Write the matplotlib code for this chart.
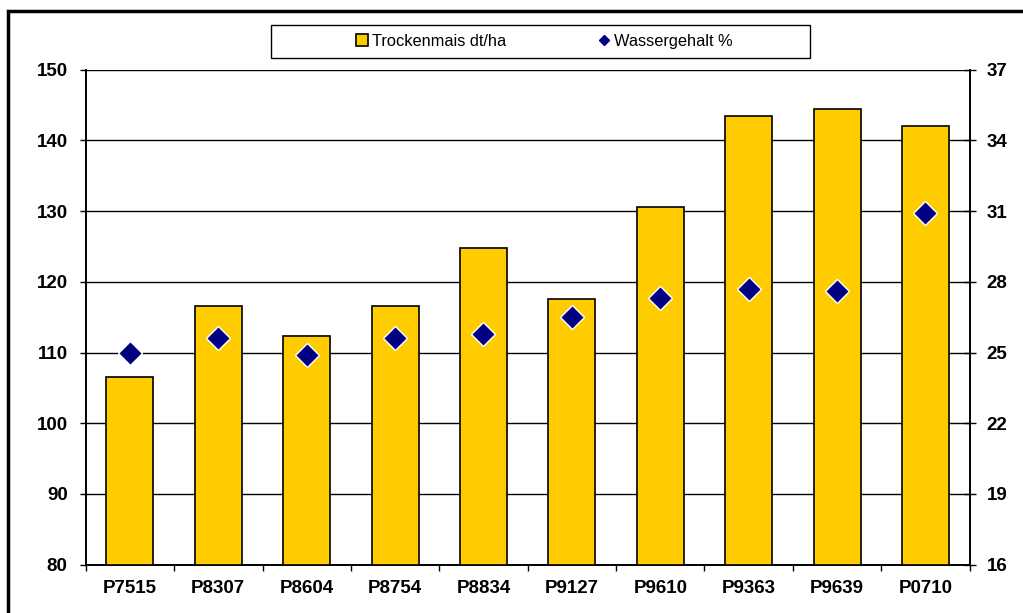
import matplotlib.pyplot as plt
from matplotlib.lines import Line2D
from matplotlib.patches import Rectangle
import numpy as np

# data
sorten = ["P7515", "P8307", "P8604", "P8754", "P8834",
          "P9127", "P9610", "P9363", "P9639", "P0710"]
trockenmais = [106.5, 116.6, 112.3, 116.6, 124.8,
               117.6, 130.6, 143.5, 144.5, 142.1]
wassergehalt = [25.0, 25.6, 24.9, 25.6, 25.8,
                26.5, 27.3, 27.7, 27.6, 30.9]
left_ticks = [80, 90, 100, 110, 120, 130, 140, 150]
right_ticks = [16, 19, 22, 25, 28, 31, 34, 37]

plt.rcParams['font.family'] = ['Liberation Sans', 'DejaVu Sans']

W, H = 1023, 613
fig = plt.figure(figsize=(W / 100, H / 100), dpi=100)
ax = fig.add_axes([85.7 / W, 1 - 564.7 / H, 884 / W, 495 / H])
ax2 = ax.twinx()

x = np.arange(len(sorten))
ax.bar(x, trockenmais, width=0.53, color="#FFCC00", edgecolor="black",
       linewidth=1.2, zorder=3)
ax.set_ylim(80, 150)
ax.set_yticks(left_ticks)
ax.set_xlim(-0.5, len(sorten) - 0.5)
ax.set_xticks(x)
ax.set_xticklabels(sorten, fontweight="bold", fontsize=13.5)
ax.set_xticks(np.arange(len(sorten) + 1) - 0.5, minor=True)
ax.tick_params(axis="x", which="major", length=0, pad=11)
ax.tick_params(axis="x", which="minor", length=4.5, direction="out", width=1)
ax.tick_params(axis="y", length=4.5, direction="out", width=1, pad=8.5,
               labelsize=13.5)
for lab in ax.get_yticklabels():
    lab.set_fontweight("bold")
ax.grid(axis="y", color="black", linewidth=1, zorder=0)
ax.set_axisbelow(True)

ax2.plot(x, wassergehalt, linestyle="none", marker="D", markersize=12,
         color="#000080", markeredgecolor="white", markeredgewidth=1,
         zorder=4)
ax2.set_ylim(16, 37)
ax2.set_yticks(right_ticks)
ax2.tick_params(axis="y", length=8, direction="inout", width=1, pad=8.3,
                labelsize=13.5)
for lab in ax2.get_yticklabels():
    lab.set_fontweight("bold")

for a in (ax, ax2):
    a.spines["top"].set_visible(False)
    for s in ("left", "right", "bottom"):
        a.spines[s].set_linewidth(1.2)

# legend at the top, frame drawn separately
handles = [
    Line2D([], [], linestyle="none", marker="s", markersize=8,
           markerfacecolor="#FFCC00", markeredgecolor="black",
           markeredgewidth=1.2, label="Trockenmais dt/ha"),
    Line2D([], [], linestyle="none", marker="D", markersize=5,
           color="#000080", label="Wassergehalt %"),
]
fig.legend(handles=handles, loc="center",
           bbox_to_anchor=(543 / W, 1 - 41.5 / H), ncol=2,
           frameon=False, fontsize=11.8, handletextpad=0.1,
           columnspacing=5.5, handlelength=1.0)
fig.patches.append(Rectangle((271 / W, 1 - 58 / H), 539 / W, 33 / H,
                             transform=fig.transFigure, fill=False,
                             edgecolor="black", linewidth=1))

# outer chart frame (only top and left edges visible in the picture)
fig.patches.append(Rectangle((8 / W, -0.05), 1.1, 1 - 11 / H + 0.05,
                             transform=fig.transFigure, fill=False,
                             edgecolor="black", linewidth=2.5))

fig.savefig("out.png", dpi=100)
